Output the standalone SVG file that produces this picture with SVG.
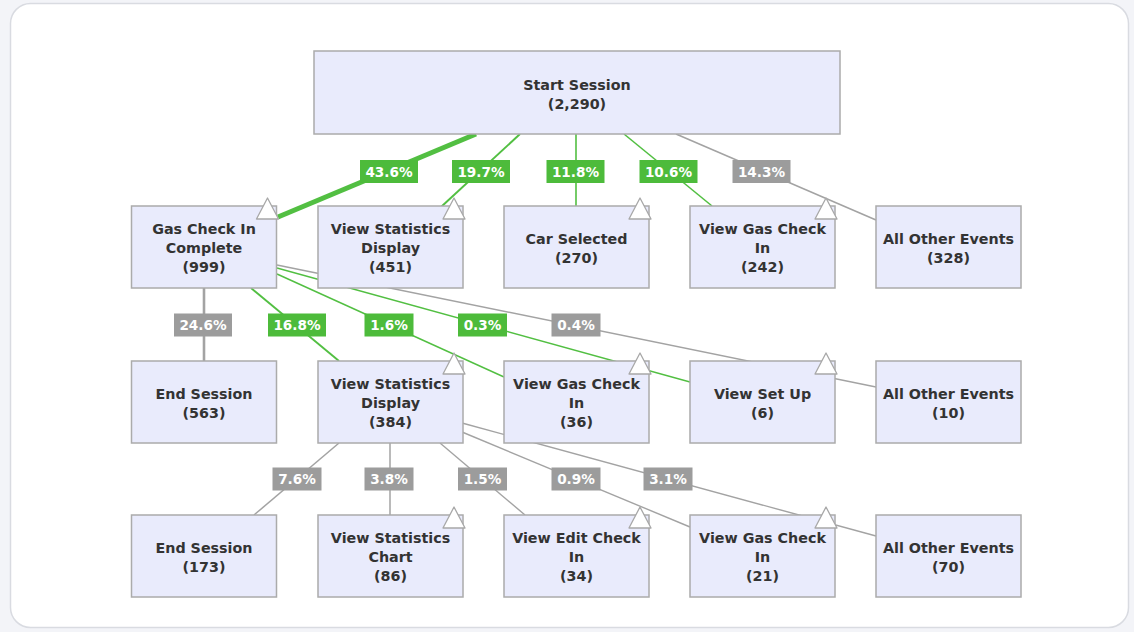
<svg xmlns="http://www.w3.org/2000/svg" width="1134" height="632" viewBox="0 0 1134 632">
<style>
.node rect{fill:#e9ebfc;stroke:#ababab;stroke-width:1.5}
.node text{font-family:"DejaVu Sans",Verdana,sans-serif;font-weight:bold;font-size:14.3px;fill:#333;text-anchor:middle}
.tri{fill:#ffffff;stroke:#a8a8a8;stroke-width:1.3;stroke-linejoin:round}
.g{stroke:#52bf42;fill:none}
.y{stroke:#a3a3a3;fill:none}
.lbl rect{stroke:none}
.lg{fill:#4dbb3b}
.ly{fill:#9c9c9c}
.lbl text{font-family:"DejaVu Sans",Verdana,sans-serif;font-weight:bold;font-size:13.6px;fill:#ffffff;text-anchor:middle}
</style>
<rect x="0" y="0" width="1134" height="632" fill="#f3f4f8"/>
<rect x="10.5" y="3.5" width="1118" height="624" rx="20" fill="#ffffff" stroke="#d9dbe1" stroke-width="1.5"/>

<g id="connectors">
<line class="g" x1="476" y1="134" x2="278" y2="217" stroke-width="5"/>
<line class="g" x1="520" y1="134" x2="441" y2="207" stroke-width="2"/>
<line class="g" x1="576" y1="134" x2="576" y2="206" stroke-width="1.6"/>
<line class="g" x1="624" y1="134" x2="712" y2="206" stroke-width="1.6"/>
<line class="y" x1="676" y1="134" x2="876" y2="220" stroke-width="1.6"/>
<line class="y" x1="204" y1="288" x2="204" y2="361" stroke-width="2.6"/>
<line class="g" x1="251" y1="288" x2="339" y2="361" stroke-width="1.9"/>
<line class="g" x1="277" y1="274" x2="504" y2="377" stroke-width="1.4"/>
<line class="g" x1="277" y1="268" x2="690" y2="382" stroke-width="1.4"/>
<line class="y" x1="277" y1="265" x2="876" y2="387" stroke-width="1.4"/>
<line class="y" x1="339" y1="443" x2="254" y2="515" stroke-width="1.5"/>
<line class="y" x1="390" y1="443" x2="390" y2="515" stroke-width="1.5"/>
<line class="y" x1="440" y1="443" x2="525" y2="515" stroke-width="1.4"/>
<line class="y" x1="462" y1="432" x2="690" y2="527" stroke-width="1.4"/>
<line class="y" x1="462" y1="423" x2="876" y2="536" stroke-width="1.4"/>
</g>

<g id="labels">
<g class="lbl"><rect class="lg" x="360" y="160" width="58" height="23"/><text x="389" y="176.5">43.6%</text></g>
<g class="lbl"><rect class="lg" x="452" y="160" width="58" height="23"/><text x="481" y="176.5">19.7%</text></g>
<g class="lbl"><rect class="lg" x="546.5" y="160" width="58" height="23"/><text x="575.5" y="176.5">11.8%</text></g>
<g class="lbl"><rect class="lg" x="639.5" y="160" width="58" height="23"/><text x="668.5" y="176.5">10.6%</text></g>
<g class="lbl"><rect class="ly" x="732.5" y="160" width="58" height="23"/><text x="761.5" y="176.5">14.3%</text></g>

<g class="lbl"><rect class="ly" x="174" y="313.5" width="58" height="23"/><text x="203" y="330">24.6%</text></g>
<g class="lbl"><rect class="lg" x="268" y="313.5" width="58" height="23"/><text x="297" y="330">16.8%</text></g>
<g class="lbl"><rect class="lg" x="364.5" y="313.5" width="49" height="23"/><text x="389" y="330">1.6%</text></g>
<g class="lbl"><rect class="lg" x="458" y="313.5" width="49" height="23"/><text x="482.5" y="330">0.3%</text></g>
<g class="lbl"><rect class="ly" x="551.5" y="313.5" width="49" height="23"/><text x="576" y="330">0.4%</text></g>

<g class="lbl"><rect class="ly" x="272.5" y="467.5" width="49" height="23"/><text x="297" y="484">7.6%</text></g>
<g class="lbl"><rect class="ly" x="364.5" y="467.5" width="49" height="23"/><text x="389" y="484">3.8%</text></g>
<g class="lbl"><rect class="ly" x="458" y="467.5" width="49" height="23"/><text x="482.5" y="484">1.5%</text></g>
<g class="lbl"><rect class="ly" x="551.5" y="467.5" width="49" height="23"/><text x="576" y="484">0.9%</text></g>
<g class="lbl"><rect class="ly" x="643.5" y="467.5" width="49" height="23"/><text x="668" y="484">3.1%</text></g>
</g>

<g id="start-session" class="node"><rect x="314" y="51" width="526" height="83"/><text x="577" y="90">Start Session</text><text x="577" y="109">(2,290)</text></g>

<g id="gas-check-in-complete" class="node"><rect x="131.5" y="206" width="145" height="82"/><text x="204" y="234">Gas Check In</text><text x="204" y="253">Complete</text><text x="204" y="272">(999)</text><polygon class="tri" points="267.5,198 256.5,219 278.5,219"/></g>
<g id="view-statistics-display-1" class="node"><rect x="318" y="206" width="145" height="82"/><text x="390.5" y="234">View Statistics</text><text x="390.5" y="253">Display</text><text x="390.5" y="272">(451)</text><polygon class="tri" points="454,198 443,219 465,219"/></g>
<g id="car-selected" class="node"><rect x="504" y="206" width="145" height="82"/><text x="576.5" y="244">Car Selected</text><text x="576.5" y="263">(270)</text><polygon class="tri" points="640,198 629,219 651,219"/></g>
<g id="view-gas-check-in-1" class="node"><rect x="690" y="206" width="145" height="82"/><text x="762.5" y="234">View Gas Check</text><text x="762.5" y="253">In</text><text x="762.5" y="272">(242)</text><polygon class="tri" points="826,198 815,219 837,219"/></g>
<g id="all-other-events-1" class="node"><rect x="876" y="206" width="145" height="82"/><text x="948.5" y="244">All Other Events</text><text x="948.5" y="263">(328)</text></g>

<g id="end-session-1" class="node"><rect x="131.5" y="361" width="145" height="82"/><text x="204" y="399">End Session</text><text x="204" y="418">(563)</text></g>
<g id="view-statistics-display-2" class="node"><rect x="318" y="361" width="145" height="82"/><text x="390.5" y="389">View Statistics</text><text x="390.5" y="408">Display</text><text x="390.5" y="427">(384)</text><polygon class="tri" points="454,353 443,374 465,374"/></g>
<g id="view-gas-check-in-2" class="node"><rect x="504" y="361" width="145" height="82"/><text x="576.5" y="389">View Gas Check</text><text x="576.5" y="408">In</text><text x="576.5" y="427">(36)</text><polygon class="tri" points="640,353 629,374 651,374"/></g>
<g id="view-set-up" class="node"><rect x="690" y="361" width="145" height="82"/><text x="762.5" y="399">View Set Up</text><text x="762.5" y="418">(6)</text><polygon class="tri" points="826,353 815,374 837,374"/></g>
<g id="all-other-events-2" class="node"><rect x="876" y="361" width="145" height="82"/><text x="948.5" y="399">All Other Events</text><text x="948.5" y="418">(10)</text></g>

<g id="end-session-2" class="node"><rect x="131.5" y="515" width="145" height="82"/><text x="204" y="553">End Session</text><text x="204" y="572">(173)</text></g>
<g id="view-statistics-chart" class="node"><rect x="318" y="515" width="145" height="82"/><text x="390.5" y="543">View Statistics</text><text x="390.5" y="562">Chart</text><text x="390.5" y="581">(86)</text><polygon class="tri" points="454,507 443,528 465,528"/></g>
<g id="view-edit-check-in" class="node"><rect x="504" y="515" width="145" height="82"/><text x="576.5" y="543">View Edit Check</text><text x="576.5" y="562">In</text><text x="576.5" y="581">(34)</text><polygon class="tri" points="640,507 629,528 651,528"/></g>
<g id="view-gas-check-in-3" class="node"><rect x="690" y="515" width="145" height="82"/><text x="762.5" y="543">View Gas Check</text><text x="762.5" y="562">In</text><text x="762.5" y="581">(21)</text><polygon class="tri" points="826,507 815,528 837,528"/></g>
<g id="all-other-events-3" class="node"><rect x="876" y="515" width="145" height="82"/><text x="948.5" y="553">All Other Events</text><text x="948.5" y="572">(70)</text></g>
</svg>
